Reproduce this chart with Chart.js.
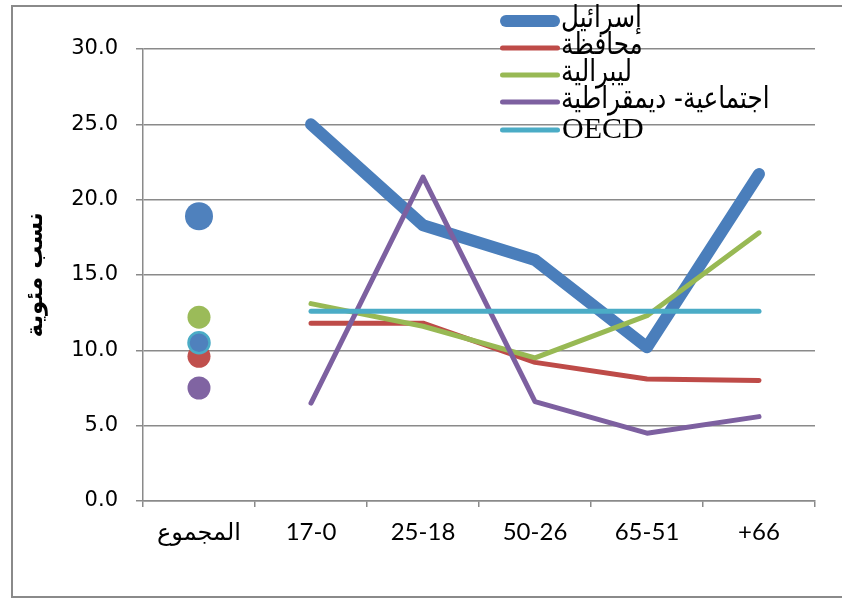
<!DOCTYPE html>
<html>
<head>
<meta charset="utf-8">
<script src="https://cdn.jsdelivr.net/npm/chart.js@4/dist/chart.umd.min.js"></script>
<style>
  html, body { margin: 0; padding: 0; background: #ffffff; }
  #wrap { width: 842px; height: 598px; }
</style>
</head>
<body>
<div id="wrap"><canvas id="c" width="842" height="598"></canvas></div>
<script>
// ---- data ----
const categories = ['المجموع', '17-0', '25-18', '50-26', '65-51', '+66'];
const seriesNames = ['إسرائيل', 'محافظة', 'ليبرالية', 'اجتماعية- ديمقراطية', 'OECD'];
const israel      = [18.9, 25.0, 18.3, 16.0, 10.2, 21.7];
const conservative = [9.6, 11.8, 11.8, 9.2, 8.1, 8.0];
const liberal     = [12.2, 13.1, 11.6, 9.5, 12.3, 17.8];
const socialDem   = [7.5, 6.5, 21.5, 6.6, 4.5, 5.6];
const oecd        = [10.5, 12.6, 12.6, 12.6, 12.6, 12.6];
const yTicks = [0, 5, 10, 15, 20, 25, 30];
const yTitle = 'نسب مئوية';

// ---- styles ----
const lineColors = ['#4a7ebb', '#be4b48', '#98b954', '#7d60a0', '#4bacc6'];
const dotColors  = ['#4f81bd', '#c0504d', '#9bbb59', '#8064a2', '#4f81bd'];
const lineWidths = [12, 5, 5, 5, 5];
const dotRadius  = [14, 11.5, 11.5, 11.5, 10.5];
const seriesValues = [israel, conservative, liberal, socialDem, oecd];

const hideFirst = { borderColor: c => c.p0DataIndex === 0 ? 'rgba(0,0,0,0)' : undefined };

const datasets = seriesValues.map((vals, i) => ({
  label: seriesNames[i],
  data: vals,
  borderColor: lineColors[i],
  borderWidth: lineWidths[i],
  borderCapStyle: 'round',
  borderJoinStyle: 'round',
  tension: 0,
  fill: false,
  order: seriesValues.length - i,
  segment: hideFirst,
  pointRadius: vals.map((v, k) => k === 0 ? dotRadius[i] : 0),
  pointHoverRadius: vals.map((v, k) => k === 0 ? dotRadius[i] : 0),
  pointBackgroundColor: dotColors[i],
  pointBorderColor: i === 4 ? '#4bacc6' : dotColors[i],
  pointBorderWidth: i === 4 ? 2.5 : 0
}));

const GRID = '#8a8a8a';

const framePlugin = {
  id: 'frame',
  beforeDraw(chart) {
    const ctx = chart.ctx;
    ctx.save();
    ctx.fillStyle = '#ffffff';
    ctx.fillRect(0, 0, chart.width, chart.height);
    ctx.restore();
  },
  afterDraw(chart) {
    const ctx = chart.ctx;
    ctx.save();
    ctx.strokeStyle = '#8a8a8a';
    ctx.lineWidth = 2;
    ctx.strokeRect(12, 6, chart.width, chart.height - 7);
    // legend
    const rows = [21, 48, 75, 102, 130];
    chart.data.datasets.forEach((ds, i) => {
      const y = rows[i];
      ctx.save();
      ctx.beginPath();
      ctx.lineCap = 'round';
      ctx.strokeStyle = ds.borderColor;
      ctx.lineWidth = ds.borderWidth;
      ctx.moveTo(500 + ds.borderWidth / 2, y);
      ctx.lineTo(560 - ds.borderWidth / 2, y);
      ctx.stroke();
      ctx.fillStyle = '#000000';
      ctx.textBaseline = 'middle';
      const latin = /[A-Za-z]/.test(ds.label);
      if (latin) {
        ctx.font = '30px "Liberation Serif", serif';
        ctx.direction = 'ltr';
        ctx.textAlign = 'left';
        ctx.fillText(ds.label, 562, y);
      } else {
        ctx.font = '28px "DejaVu Sans", sans-serif';
        ctx.direction = 'rtl';
        ctx.textAlign = 'right';
        const w = ctx.measureText(ds.label).width;
        ctx.translate(561, y - 2);
        ctx.scale(0.88, 1.08);
        ctx.fillText(ds.label, w, 0);
      }
      ctx.restore();
    });
    ctx.restore();
  }
};

new Chart(document.getElementById('c'), {
  type: 'line',
  data: { labels: categories, datasets },
  plugins: [framePlugin],
  options: {
    responsive: false,
    animation: false,
    events: [],
    layout: { padding: { left: 13, right: 27, top: 49, bottom: 0 } },
    plugins: { legend: { display: false }, tooltip: { enabled: false }, title: { display: false } },
    scales: {
      x: {
        type: 'category',
        offset: true,
        afterFit: s => { s.height = 97; },
        grid: { display: true, drawOnChartArea: false, drawTicks: true, tickLength: 6, offset: true, color: GRID, lineWidth: 1.5 },
        border: { display: true, color: GRID, width: 1.5 },
        ticks: { color: '#000000', padding: 11, maxRotation: 0, autoSkip: false,
                 font: { family: 'Lato, "DejaVu Sans", sans-serif', size: 24 } }
      },
      y: {
        min: 0, max: 30,
        afterFit: s => { s.width = 130; },
        afterBuildTicks: s => { s.ticks = yTicks.map(v => ({ value: v })); },
        grid: { color: GRID, lineWidth: 1.5, drawTicks: true, tickLength: 7 },
        border: { display: true, color: GRID, width: 1.5 },
        ticks: { color: '#000000', padding: 18, callback: v => Number(v).toFixed(1),
                 font: { family: '"DejaVu Sans", sans-serif', size: 21 } },
        title: { display: true, text: yTitle, color: '#000000', padding: { top: 9, bottom: 0 },
                 font: { family: '"DejaVu Sans", sans-serif', size: 23, weight: 'bold' } }
      }
    }
  }
});
</script>
</body>
</html>
